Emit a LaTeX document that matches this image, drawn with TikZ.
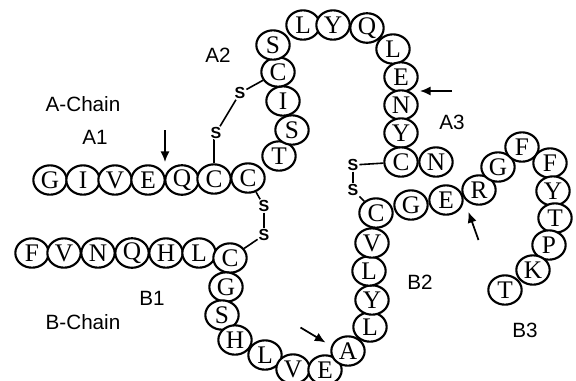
\documentclass[tikz,border=0pt]{standalone}
\usepackage{fontspec}
\setmainfont{Liberation Serif}
\setsansfont{Liberation Sans}
\usepackage{tikz}
\usetikzlibrary{arrows.meta, calc, shapes.geometric}

\tikzset{
  res/.style={draw, ellipse, fill=white, line width=1.6pt, inner sep=0pt,
    minimum width=25pt, minimum height=22pt, font=\fontsize{19}{19}\selectfont},
  sulf/.style={inner sep=0.6pt, font=\sffamily\bfseries\fontsize{12}{12}\selectfont},
  bond/.style={line width=1.2pt},
  lbl/.style={font=\sffamily\fontsize{15.5}{15.5}\selectfont},
  cut/.style={line width=1.3pt, -{Latex[length=8pt,width=7pt]}}
}

\begin{document}
\begin{tikzpicture}[x=0.75pt, y=-0.75pt]
\useasboundingbox (0,0) rectangle (576,380);

% A-chain
\node[res] (a1) at (50,180) {G};
\node[res] (a2) at (83,180) {I};
\node[res] (a3) at (115,180) {V};
\node[res] (a4) at (148,180) {E};
\node[res] (a5) at (182,180) {Q};
\node[res] (a6) at (214,179) {C};
\node[res] (a7) at (248,178) {C};
\node[res] (a8) at (279,156) {T};
\node[res] (a9) at (292,130) {S};
\node[res] (a10) at (283,101) {I};
\node[res] (a11) at (278,72) {C};
\node[res] (a12) at (273,45) {S};
\node[res] (a13) at (303,25) {L};
\node[res] (a14) at (333,25) {Y};
\node[res] (a15) at (367,28) {Q};
\node[res] (a16) at (393,49) {L};
\node[res] (a17) at (401,77) {E};
\node[res] (a18) at (401,105) {N};
\node[res] (a19) at (401,133) {Y};
\node[res] (a20) at (401,162) {C};
\node[res] (a21) at (436,162) {N};

% B-chain
\node[res] (b1) at (32,253) {F};
\node[res] (b2) at (64,253) {V};
\node[res] (b3) at (98,253) {N};
\node[res] (b4) at (132,253) {Q};
\node[res] (b5) at (166,253) {H};
\node[res] (b6) at (199,253) {L};
\node[res] (b7) at (230,258) {C};
\node[res] (b8) at (226,287) {G};
\node[res] (b9) at (222,315) {S};
\node[res] (b10) at (235,340) {H};
\node[res] (b11) at (265,355) {L};
\node[res] (b12) at (293,369) {V};
\node[res] (b13) at (325,370) {E};
\node[res] (b14) at (348,351) {A};
\node[res] (b15) at (370,327) {L};
\node[res] (b16) at (372,300) {Y};
\node[res] (b17) at (369,271) {L};
\node[res] (b18) at (372,243) {V};
\node[res] (b19) at (376,213) {C};
\node[res] (b20) at (411,205) {G};
\node[res] (b21) at (446,200) {E};
\node[res] (b22) at (479,190) {R};
\node[res] (b23) at (498,167) {G};
\node[res] (b24) at (522,147) {F};
\node[res] (b25) at (550,163) {F};
\node[res] (b26) at (553,191) {Y};
\node[res] (b27) at (555,218) {T};
\node[res] (b28) at (549,245) {P};
\node[res] (b29) at (533,270) {K};
\node[res] (b30) at (505,290) {T};

% disulfide bridges
\node[sulf] (s1) at (216,133) {S};
\node[sulf] (s2) at (240,93) {S};
\node[sulf] (s3) at (264,206) {S};
\node[sulf] (s4) at (264,235) {S};
\node[sulf] (s5) at (353,165) {S};
\node[sulf] (s6) at (353,190) {S};
\draw[bond] (a6.north) -- (a6.north |- s1.south) -- (s1);
\draw[bond] (s1) -- (s2);
\draw[bond] (s2) -- (a11);
\draw[bond] (a7) -- (s3);
\draw[bond] (s3) -- (s4);
\draw[bond] (s4) -- (b7);
\draw[bond] (a20) -- (s5);
\draw[bond] (s5) -- (s6);
\draw[bond] (s6) -- (b19);

% labels
\node[lbl] (lach) at (83,104) {A-Chain};
\node[lbl] (la1) at (95,137) {A1};
\node[lbl] (la2) at (218,55) {A2};
\node[lbl] (la3) at (452,122) {A3};
\node[lbl] (lbch) at (83,322) {B-Chain};
\node[lbl] (lb1) at (152,298) {B1};
\node[lbl] (lb2) at (420,282) {B2};
\node[lbl] (lb3) at (525,330) {B3};

% cleavage arrows
\draw[cut] ($(a4)!0.5!(a5) + (0,-50)$) -- ($(a4)!0.5!(a5) + (0,-18)$);
\draw[cut] ($(a17)!0.5!(a18) + (51,0)$) -- ($(a17)!0.5!(a18) + (19,0)$);
\draw[cut] ($(b21)!0.5!(b22) + (16,45)$) -- ($(b21)!0.5!(b22) + (6,17)$);
\draw[cut] ($(b13)!0.5!(b14) + (-36,-33)$) -- ($(b13)!0.5!(b14) + (-11,-18)$);
\end{tikzpicture}
\end{document}
